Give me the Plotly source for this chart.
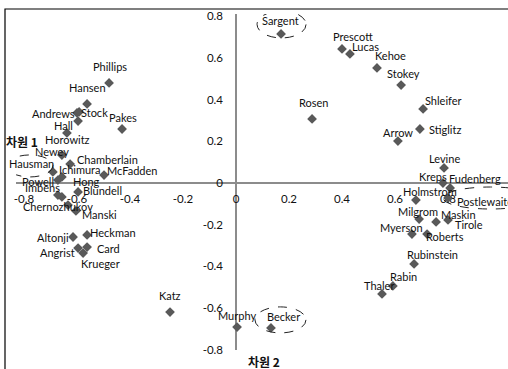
import plotly.graph_objects as go

# ---- data ----
names = ["Phillips", "Hansen", "Andrews", "Stock", "Hall", "Pakes", "Horowitz", "Newey",
         "Chamberlain", "Hausman", "Ichimura", "McFadden", "Powell", "Hong", "Imbens",
         "Blundell", "Chernozhukov", "Manski", "Altonji", "Heckman", "Card", "Angrist",
         "Krueger", "Sargent", "Prescott", "Lucas", "Kehoe", "Stokey", "Rosen", "Shleifer",
         "Stiglitz", "Arrow", "Levine", "Kreps", "Fudenberg", "Holmstrom", "Postlewaite",
         "Milgrom", "Maskin", "Tirole", "Myerson", "Roberts", "Rubinstein", "Rabin",
         "Thaler", "Katz", "Murphy", "Becker"]
dim1 = [-0.479, -0.562, -0.600, -0.592, -0.596, -0.430, -0.638, -0.657,
        -0.626, -0.691, -0.657, -0.498, -0.672, -0.672, -0.657,
        -0.596, -0.634, -0.604, -0.615, -0.562, -0.562, -0.596,
        -0.577, 0.170, 0.400, 0.430, 0.532, 0.623, 0.287, 0.706,
        0.694, 0.611, 0.785, 0.781, 0.808, 0.679, 0.800,
        0.691, 0.755, 0.800, 0.664, 0.721, 0.672, 0.592,
        0.551, -0.249, 0.004, 0.132]
dim2 = [0.480, 0.379, 0.336, 0.341, 0.297, 0.259, 0.240, 0.134,
        0.091, 0.053, 0.029, 0.038, 0.014, -0.058, -0.067,
        -0.043, -0.106, -0.134, -0.259, -0.249, -0.307, -0.312,
        -0.336, 0.715, 0.643, 0.619, 0.552, 0.470, 0.307, 0.355,
        0.259, 0.201, 0.072, 0.000, -0.024, -0.082, -0.072,
        -0.173, -0.187, -0.177, -0.245, -0.245, -0.388, -0.494,
        -0.532, -0.619, -0.691, -0.695]
x_ticks = [-0.8, -0.6, -0.4, -0.2, 0, 0.2, 0.4, 0.6, 0.8]
y_ticks = [-0.8, -0.6, -0.4, -0.2, 0, 0.2, 0.4, 0.6, 0.8]
x_title = "차원 2"
y_title = "차원 1"
highlighted = ["Hausman", "Sargent", "Becker", "Postlewaite"]

# ---- styling: label offsets (px, right / down) ----
label_offset = {
    "Phillips": (1, -16), "Hansen": (0, -16), "Andrews": (-24, 1), "Stock": (15, 1),
    "Hall": (-15, 4), "Pakes": (1, -12), "Horowitz": (1, 7), "Newey": (-10, -4),
    "Chamberlain": (37, -5), "Hausman": (-21, -8), "Ichimura": (18, -7),
    "McFadden": (28, -5), "Powell": (-20, 1), "Hong": (29, -14), "Imbens": (-19, -9),
    "Blundell": (24, -1), "Chernozhukov": (-10, 1), "Manski": (24, 4),
    "Altonji": (-20, 0), "Heckman": (26, -2), "Card": (21, 1), "Angrist": (-21, 4),
    "Krueger": (17, 10), "Sargent": (-1, -13), "Prescott": (11, -12), "Lucas": (16, -7),
    "Kehoe": (14, -12), "Stokey": (2, -12), "Rosen": (1, -16), "Shleifer": (20, -8),
    "Stiglitz": (25, 0), "Arrow": (0, -9), "Levine": (0, -9), "Kreps": (-10, -7),
    "Fudenberg": (25, -10), "Holmstrom": (14, -9), "Postlewaite": (37, 3),
    "Milgrom": (-1, -8), "Maskin": (22, -7), "Tirole": (21, 5), "Myerson": (-10, -7),
    "Roberts": (18, 2), "Rubinstein": (18, -9), "Rabin": (11, -9), "Thaler": (-3, -8),
    "Katz": (0, -17), "Murphy": (0, -12), "Becker": (13, -11),
}
# ellipse extents around highlighted points (px relative to point; x0,x1,y0,y1 with y up)
ellipse_box = {
    "Hausman": (-46, 0, -5, 17),
    "Sargent": (-24, 25, -4, 23),
    "Becker": (-16, 35, -5, 21),
    "Postlewaite": (-5, 90, -11, 11),
}

W, H = 508, 369
ML, MR, MT, MB = 16, 0, 14, 19
x_range = [-0.8302, 1.0264]
y_range = [-0.8010, 0.8106]
xpos = (0 - y_range[0]) / (y_range[1] - y_range[0])
ypos = (0 - x_range[0]) / (x_range[1] - x_range[0])

FONT = "Lato, 'Open Sans', sans-serif"
KFONT = "'Noto Sans CJK KR', 'Noto Sans', sans-serif"
AXIS_COLOR = "#8c8c8c"
PW, PH = W - ML - MR, H - MT - MB

fig = go.Figure()
fig.add_trace(go.Scatter(
    x=dim1, y=dim2, mode="markers",
    marker=dict(symbol="diamond", size=7.5, color="#595959"),
    hovertext=names, hoverinfo="text", cliponaxis=False, showlegend=False,
))

annotations = []
for n, xv, yv in zip(names, dim1, dim2):
    dx, dy = label_offset[n]
    annotations.append(dict(
        x=xv, y=yv, xref="x", yref="y", text=n, showarrow=False,
        xanchor="center", yanchor="middle",
        xshift=dx, yshift=-dy, font=dict(family=FONT, size=11, color="#111111"),
    ))
annotations.append(dict(
    x=(22 - ML) / PW, y=(H - MB - 141) / PH, xref="paper", yref="paper",
    xanchor="center", yanchor="middle",
    text="<b>" + y_title + "</b>", showarrow=False,
    font=dict(family=KFONT, size=12, color="#111111")))
annotations.append(dict(
    x=(264 - ML) / PW, y=(H - MB - 361) / PH, xref="paper", yref="paper",
    xanchor="center", yanchor="middle",
    text="<b>" + x_title + "</b>", showarrow=False,
    font=dict(family=KFONT, size=12, color="#111111")))

shapes = []
for n in highlighted:
    i = names.index(n)
    x0, x1, y0, y1 = ellipse_box[n]
    shapes.append(dict(
        type="circle", xref="x", yref="y", xsizemode="pixel", ysizemode="pixel",
        xanchor=dim1[i], yanchor=dim2[i], x0=x0, x1=x1, y0=y0, y1=y1,
        line=dict(color="#222222", width=1, dash="dash"), layer="above",
    ))
# outer chart border
shapes.append(dict(
    type="rect", xref="paper", yref="paper",
    x0=(5 - ML) / PW, x1=1.2, y0=-0.3, y1=(H - MB - 9) / PH,
    line=dict(color="#000000", width=1.2), layer="below",
))

fig.update_layout(
    width=W, height=H,
    margin=dict(l=ML, r=MR, t=MT, b=MB, pad=0),
    paper_bgcolor="white", plot_bgcolor="white",
    showlegend=False,
    annotations=annotations, shapes=shapes,
    font=dict(family=FONT, size=12, color="#111111"),
    xaxis=dict(
        range=x_range, tickvals=x_ticks, ticktext=[("%g" % v) for v in x_ticks],
        showgrid=False, zeroline=False, showline=True, linecolor=AXIS_COLOR, linewidth=1.5,
        anchor="free", position=xpos, ticks="", ticklabelstandoff=5,
        tickfont=dict(family=FONT, size=11.5, color="#111111"), layer="below traces",
        fixedrange=True,
    ),
    yaxis=dict(
        range=y_range, tickvals=y_ticks, ticktext=[("%g" % v) for v in y_ticks],
        showgrid=False, zeroline=False, showline=True, linecolor=AXIS_COLOR, linewidth=1.5,
        anchor="free", position=ypos, ticks="", ticklabelstandoff=10,
        tickfont=dict(family=FONT, size=11.5, color="#111111"), layer="below traces",
        fixedrange=True,
    ),
)

fig.write_html(
    "out.html",
    config={"displayModeBar": False},
    post_script="document.body.style.margin='0';document.body.style.overflow='hidden';",
)
